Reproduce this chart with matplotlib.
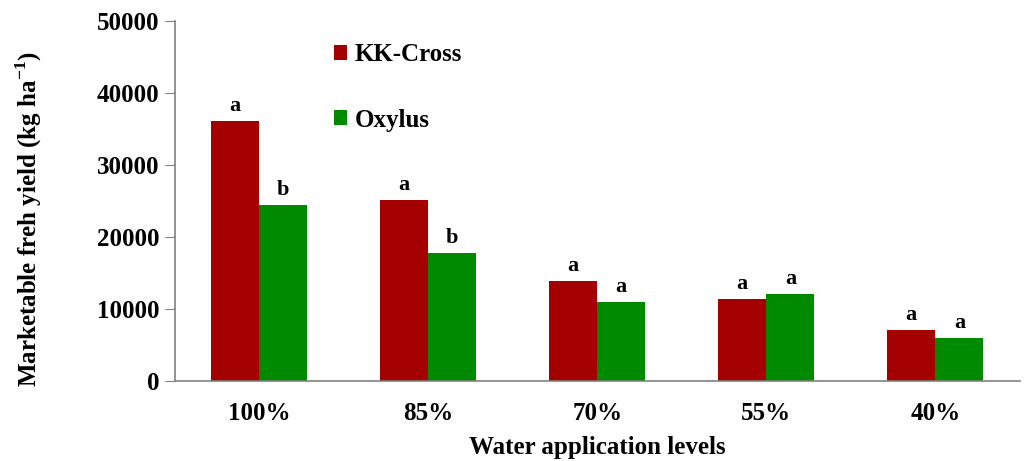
import matplotlib.pyplot as plt
import numpy as np

levels = ["100%", "85%", "70%", "55%", "40%"]
kk_cross = [36100, 25200, 13900, 11400, 7100]
oxylus = [24400, 17700, 11000, 12000, 6000]
kk_letters = ["a", "a", "a", "a", "a"]
ox_letters = ["b", "b", "a", "a", "a"]

plt.rcParams["font.family"] = ["Liberation Serif", "DejaVu Serif"]
plt.rcParams["font.weight"] = "bold"
plt.rcParams["mathtext.fontset"] = "custom"
plt.rcParams["mathtext.bf"] = "Liberation Serif:bold"
plt.rcParams["mathtext.rm"] = "Liberation Serif:bold"

fig = plt.figure(figsize=(10.27, 4.61), dpi=100)
ax = fig.add_axes([0.170, 0.174, 0.823, 0.780])

x = np.arange(len(levels))
w = 0.285
red = "#A50000"
green = "#008A00"
ax.bar(x - w / 2, kk_cross, w, color=red, label="KK-Cross")
ax.bar(x + w / 2, oxylus, w, color=green, label="Oxylus")

for i in range(len(levels)):
    ax.text(x[i] - w / 2, kk_cross[i] + 700, kk_letters[i], ha="center",
            va="bottom", fontsize=16, fontweight="bold")
    ax.text(x[i] + w / 2, oxylus[i] + 700, ox_letters[i], ha="center",
            va="bottom", fontsize=16, fontweight="bold")

ax.set_xlim(-0.5, len(levels) - 0.5)
ax.set_ylim(0, 50000)
ax.set_yticks(np.arange(0, 50001, 10000))
ax.set_xticks(x)
ax.set_xticklabels(levels)
ax.tick_params(axis="y", length=7, color="#808080", labelsize=18, pad=4)
ax.tick_params(axis="x", length=0, labelsize=18, pad=15)

for s in ["top", "right"]:
    ax.spines[s].set_visible(False)
for s in ["left", "bottom"]:
    ax.spines[s].set_color("#808080")
    ax.spines[s].set_linewidth(1.2)

ax.set_xlabel("Water application levels", fontsize=18, fontweight="bold", labelpad=8)
ax.set_ylabel("Marketable freh yield (kg ha$^{\\mathrm{-1}}$)", fontsize=18,
              fontweight="bold")
ax.yaxis.set_label_coords(-0.155, 0.45)

ax.legend(loc="upper left", bbox_to_anchor=(0.303, 0.955), bbox_transform=fig.transFigure,
          frameon=False, fontsize=18, handlelength=0.55, handleheight=0.55,
          handletextpad=0.3, labelspacing=1.7)

fig.savefig("out.png", dpi=100)
